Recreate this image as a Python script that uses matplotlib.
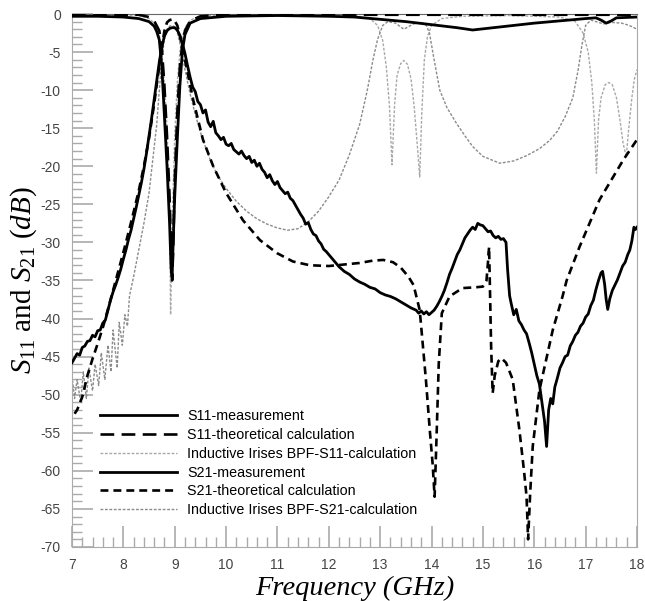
import matplotlib.pyplot as plt
import numpy as np

plt.rcParams['axes.unicode_minus'] = False
plt.rcParams['mathtext.fontset'] = 'custom'
plt.rcParams['mathtext.rm'] = 'Liberation Serif'
plt.rcParams['mathtext.it'] = 'Liberation Serif:italic'

# S11 - measurement
s11_meas_f = [7.0, 7.5, 8.0, 8.3, 8.5, 8.6, 8.65, 8.7, 8.75, 8.8, 8.85, 8.9, 8.93, 8.95, 8.97, 9.0,
              9.05, 9.1, 9.15, 9.2, 9.3, 9.5, 10.0, 11.0, 12.0, 12.5, 13.0, 13.5, 14.0, 14.5, 14.8,
              15.2, 15.6, 16.0, 16.5, 17.0, 17.2, 17.3, 17.4, 17.5, 17.6, 18.0]
s11_meas_db = [-0.3, -0.3, -0.4, -0.6, -1.0, -1.6, -2.3, -3.4, -7.0, -13.5, -20.0, -27.5, -33.5, -34.5,
               -30.0, -24.0, -16.5, -9.5, -4.8, -2.7, -1.2, -0.6, -0.3, -0.2, -0.3, -0.4, -0.7, -1.0,
               -1.4, -1.8, -2.1, -1.8, -1.5, -1.2, -0.9, -0.6, -0.5, -0.8, -1.2, -0.9, -0.5, -0.4]

# S11 - theoretical calculation
s11_theo_f = [7.0, 8.3, 8.5, 8.6, 8.7, 8.75, 8.8, 8.85, 8.9, 8.93, 8.95, 8.97, 9.0, 9.05, 9.1, 9.15,
              9.2, 9.3, 9.5, 10.0, 18.0]
s11_theo_db = [-0.1, -0.1, -0.4, -0.9, -2.2, -4.5, -9.5, -16.0, -24.0, -31.0, -35.0, -31.0, -22.0,
               -13.0, -7.0, -3.8, -2.2, -0.9, -0.3, -0.1, -0.1]

# Inductive irises BPF - S11 calculation
s11_ind_f = [7.0, 8.3, 8.5, 8.6, 8.7, 8.75, 8.8, 8.85, 8.9, 8.92, 8.95, 9.0, 9.05, 9.1, 9.15, 9.2,
             9.3, 9.5, 10.0, 12.0, 12.5, 12.8, 12.95, 13.05, 13.12, 13.18, 13.23, 13.28, 13.33, 13.4,
             13.46, 13.53, 13.6, 13.66, 13.72, 13.77, 13.81, 13.86, 13.92, 14.0, 14.2, 14.6, 15.5,
             16.5, 16.8, 16.95, 17.05, 17.12, 17.17, 17.21, 17.25, 17.3, 17.38, 17.45, 17.52, 17.6,
             17.67, 17.73, 17.79, 17.84, 17.9, 17.95, 18.0]
s11_ind_db = [-0.05, -0.2, -0.6, -1.2, -2.8, -5.0, -9.0, -15.0, -26.0, -39.5, -28.0, -16.0, -9.0, -5.0,
              -3.0, -1.8, -0.8, -0.3, -0.1, -0.1, -0.2, -0.6, -1.5, -3.5, -7.0, -12.0, -19.8, -12.0,
              -8.0, -6.5, -6.1, -6.6, -8.5, -12.0, -17.0, -21.4, -13.0, -6.0, -3.0, -1.5, -0.6, -0.3,
              -0.2, -0.4, -1.0, -2.5, -5.0, -9.0, -14.0, -20.9, -14.0, -11.0, -9.3, -9.0, -9.3, -11.0,
              -14.0, -17.0, -18.7, -15.0, -11.0, -8.5, -7.3]

# S21 - measurement
s21_meas_f = [7.00, 7.05, 7.10, 7.15, 7.20, 7.25, 7.30, 7.35, 7.40, 7.45, 7.50, 7.55, 7.60, 7.65, 7.70,
              7.75, 7.80, 7.85, 7.90, 7.95, 8.00, 8.05, 8.10, 8.15, 8.20, 8.25, 8.30, 8.35, 8.40, 8.45,
              8.50, 8.55, 8.60, 8.65, 8.70, 8.75, 8.80, 8.85, 8.90, 8.95, 9.00, 9.05, 9.10, 9.15, 9.20,
              9.25, 9.30, 9.35, 9.40, 9.45, 9.50, 9.55, 9.60, 9.65, 9.70, 9.75, 9.80, 9.85, 9.90, 9.95,
              10.00, 10.05, 10.10, 10.15, 10.20, 10.25, 10.30, 10.35, 10.40, 10.45, 10.50, 10.55, 10.60,
              10.65, 10.70, 10.75, 10.80, 10.85, 10.90, 10.95, 11.00, 11.05, 11.10, 11.15, 11.20, 11.25,
              11.30, 11.35, 11.40, 11.45, 11.50, 11.55, 11.60, 11.65, 11.70, 11.75, 11.80, 11.85, 11.90,
              11.95, 12.00, 12.10, 12.20, 12.30, 12.40, 12.50, 12.60, 12.70, 12.80, 12.90, 13.00, 13.10,
              13.20, 13.30, 13.40, 13.50, 13.60, 13.70, 13.75, 13.80, 13.85, 13.90, 13.95, 14.00, 14.05,
              14.10, 14.15, 14.20, 14.25, 14.30, 14.35, 14.40, 14.45, 14.50, 14.55, 14.60, 14.65, 14.70,
              14.75, 14.80, 14.85, 14.90, 14.95, 15.00, 15.05, 15.10, 15.15, 15.20, 15.25, 15.30, 15.35,
              15.40, 15.45, 15.48, 15.52, 15.55, 15.60, 15.65, 15.70, 15.75, 15.80, 15.85, 15.90, 15.95,
              16.00, 16.05, 16.10, 16.15, 16.20, 16.24, 16.28, 16.32, 16.36, 16.40, 16.45, 16.50, 16.55,
              16.60, 16.65, 16.70, 16.75, 16.80, 16.85, 16.90, 16.95, 17.00, 17.05, 17.10, 17.15, 17.20,
              17.25, 17.30, 17.33, 17.37, 17.40, 17.43, 17.47, 17.52, 17.57, 17.62, 17.67, 17.72, 17.77,
              17.82, 17.86, 17.90, 17.94, 17.97, 18.00]
s21_meas_db = [-45.8, -45.2, -44.6, -44.8, -43.8, -43.6, -43.0, -42.9, -42.2, -42.4, -41.6, -41.5, -40.6,
               -40.2, -38.9, -37.6, -36.5, -35.6, -34.6, -33.5, -32.2, -31.0, -29.6, -28.4, -26.9, -25.4,
               -23.8, -22.2, -20.4, -18.3, -16.0, -13.7, -11.2, -8.8, -6.3, -4.3, -2.9, -2.2, -1.9, -1.8,
               -1.8, -2.1, -2.8, -3.9, -5.2, -6.8, -8.3, -9.6, -10.2, -11.5, -11.9, -13.0, -12.6, -14.2,
               -14.8, -14.1, -15.6, -16.0, -16.5, -16.2, -17.1, -17.3, -17.0, -17.8, -18.1, -18.4, -18.0,
               -18.6, -19.0, -18.7, -19.5, -19.2, -20.0, -19.6, -20.4, -20.8, -21.5, -21.1, -21.9, -22.4,
               -22.0, -22.8, -23.2, -23.6, -23.4, -24.2, -24.5, -25.1, -25.7, -26.3, -26.8, -27.6, -27.4,
               -28.3, -28.9, -29.1, -29.8, -30.2, -30.9, -31.2, -31.6, -32.4, -33.2, -33.8, -34.2, -34.8,
               -35.2, -35.5, -35.9, -36.1, -36.6, -36.9, -37.1, -37.4, -37.8, -38.2, -38.6, -38.9, -39.3,
               -39.0, -39.4, -39.1, -39.5, -39.2, -38.9, -38.4, -37.8, -37.1, -36.3, -35.3, -34.2, -33.4,
               -32.5, -31.6, -31.0, -30.2, -29.4, -28.9, -28.4, -28.0, -28.3, -27.5, -27.7, -27.8, -28.2,
               -28.6, -28.5, -29.1, -29.4, -29.2, -29.6, -29.5, -30.0, -33.5, -37.0, -38.0, -39.5, -38.8,
               -40.3, -40.8, -41.5, -42.0, -43.2, -44.5, -46.0, -47.5, -48.6, -51.0, -53.5, -56.8, -52.0,
               -50.5, -51.2, -49.0, -47.8, -46.5, -45.8, -45.0, -44.8, -43.6, -43.0, -42.2, -41.8, -41.0,
               -40.6, -39.8, -39.4, -38.3, -37.6, -36.2, -35.0, -34.0, -33.8, -35.5, -37.5, -38.8, -37.4,
               -36.3, -35.6, -34.9, -34.0, -33.1, -32.6, -31.6, -31.0, -29.8, -28.0, -28.3, -28.0]

# S21 - theoretical calculation
s21_theo_f = [7.05, 7.1, 7.2, 7.3, 7.4, 7.5, 7.6, 7.7, 7.8, 7.9, 8.0, 8.1, 8.2, 8.3, 8.4, 8.5, 8.6, 8.7,
              8.75, 8.8, 8.85, 8.9, 8.95, 9.0, 9.05, 9.1, 9.15, 9.23, 9.36, 9.55, 9.75, 10.0, 10.33,
              10.66, 10.99, 11.3, 11.63, 12.0, 12.3, 12.6, 12.85, 13.06, 13.25, 13.4, 13.55, 13.65,
              13.77, 13.89, 13.97, 14.02, 14.06, 14.1, 14.14, 14.2, 14.35, 14.6, 14.85, 15.0, 15.07,
              15.1, 15.12, 15.14, 15.16, 15.19, 15.23, 15.3, 15.36, 15.45, 15.58, 15.71, 15.8, 15.85,
              15.88, 15.92, 15.97, 16.1, 16.36, 16.55, 16.63, 16.88, 17.27, 17.73, 18.0]
s21_theo_db = [-52.5, -52.0, -50.3, -47.5, -45.3, -43.3, -41.2, -38.8, -36.3, -33.8, -31.3, -28.7, -26.0,
               -23.2, -20.0, -16.3, -11.8, -6.8, -4.3, -2.2, -1.1, -0.8, -0.7, -0.9, -1.5, -2.8, -4.6,
               -7.0, -11.3, -16.5, -20.0, -23.5, -27.1, -29.7, -31.4, -32.5, -33.0, -33.1, -32.9, -32.7,
               -32.4, -32.3, -32.6, -33.3, -34.5, -35.6, -38.9, -48.0, -55.0, -59.0, -63.4, -55.0, -46.0,
               -39.3, -37.1, -36.0, -35.9, -35.8, -35.0, -32.5, -30.6, -37.0, -43.7, -49.8, -47.5, -45.6,
               -45.2, -45.8, -48.0, -54.6, -60.0, -63.4, -69.0, -63.0, -56.8, -49.4, -41.5, -37.1, -35.0,
               -30.6, -24.4, -19.2, -16.5]

# Inductive irises BPF - S21 calculation
s21_ind_f = [7.0, 7.05, 7.1, 7.17, 7.22, 7.28, 7.33, 7.4, 7.45, 7.52, 7.57, 7.64, 7.7, 7.76, 7.8, 7.88,
             7.92, 7.98, 8.03, 8.08, 8.12, 8.2, 8.3, 8.4, 8.5, 8.55, 8.6, 8.65, 8.7, 8.75, 8.8, 8.85,
             8.9, 8.95, 9.0, 9.05, 9.1, 9.15, 9.2, 9.3, 9.4, 9.5, 9.6, 9.7, 9.8, 9.9, 10.0, 10.2,
             10.4, 10.6, 10.8, 11.0, 11.2, 11.4, 11.6, 11.8, 12.0, 12.2, 12.4, 12.6, 12.75, 12.86,
             12.95, 13.05, 13.15, 13.3, 13.46, 13.65, 13.8, 13.9, 13.96, 14.05, 14.16, 14.3, 14.48,
             14.65, 14.8, 15.0, 15.33, 15.6, 15.85, 16.1, 16.3, 16.45, 16.6, 16.75, 16.85, 16.93, 17.0,
             17.1, 17.2, 17.35, 17.5, 17.7, 17.85, 18.0]
s21_ind_db = [-47.5, -50.5, -48.0, -51.0, -47.0, -50.5, -46.5, -49.5, -46.0, -48.8, -44.5, -48.0, -43.5,
              -47.0, -41.5, -46.5, -40.5, -43.5, -39.5, -41.0, -37.0, -34.5, -31.0, -27.5, -23.5, -20.5,
              -17.5, -14.5, -10.0, -6.0, -3.2, -2.0, -1.6, -1.5, -1.7, -2.4, -3.8, -5.5, -7.3, -10.5,
              -13.2, -15.5, -17.5, -19.3, -20.7, -21.9, -22.9, -24.6, -25.9, -26.9, -27.6, -28.1, -28.4,
              -28.2, -27.3, -25.9, -24.0, -21.8, -18.5, -14.5, -10.0, -6.0, -3.3, -1.5, -1.0, -1.2,
              -2.0, -1.3, -1.1, -1.5, -2.5, -6.0, -10.0, -12.3, -14.3, -16.0, -17.4, -18.7, -19.6,
              -19.3, -18.6, -17.7, -16.6, -15.4, -13.5, -11.0, -7.5, -4.0, -1.5, -0.8, -1.0, -1.3, -1.1,
              -1.2, -1.5, -2.0]

fig = plt.figure(figsize=(6.45, 6.01), dpi=100)
ax = fig.add_axes([0.1116, 0.0899, 0.8760, 0.8868])

ax.plot(s11_ind_f, s11_ind_db, color='#a8a8a8', lw=1.0, ls=(0, (2, 1.2)),
        label='Inductive Irises BPF-S11-calculation', zorder=2)
ax.plot(s21_ind_f, s21_ind_db, color='#8a8a8a', lw=1.0, ls=(0, (2, 1.2)),
        label='Inductive Irises BPF-S21-calculation', zorder=2)
ax.plot(s11_theo_f, s11_theo_db, color='black', lw=1.9, ls=(0, (5.2, 2.8)),
        label='S11-theoretical calculation', zorder=3)
ax.plot(s21_theo_f, s21_theo_db, color='black', lw=1.9, ls=(0, (3.0, 1.9)),
        label='S21-theoretical calculation', zorder=3)
ax.plot(s11_meas_f, s11_meas_db, color='black', lw=2.0, label='S11-measurement', zorder=4)
ax.plot(s21_meas_f, s21_meas_db, color='black', lw=2.0, label='S21-measurement', zorder=4)

ax.set_xlim(7, 18)
ax.set_ylim(-70, 0)
ax.set_xticks(np.arange(7, 19, 1))
ax.set_xticks(np.arange(7, 18.01, 0.2), minor=True)
ax.set_yticks(np.arange(-70, 1, 5))
ax.set_yticks(np.arange(-70, 1, 1), minor=True)
ax.tick_params(which='both', direction='in', color='#aaaaaa', labelcolor='#444444',
               labelsize=10, top=False, right=False)
ax.tick_params(which='major', length=15, width=1.2, pad=8)
ax.tick_params(which='minor', length=7, width=1.0)
for lab in ax.get_xticklabels() + ax.get_yticklabels():
    lab.set_fontfamily('Liberation Sans')
for side in ['left', 'bottom', 'right']:
    ax.spines[side].set_color('#aaaaaa')
ax.spines['top'].set_color('#666666')

ax.set_xlabel('Frequency (GHz)', fontfamily='Liberation Serif', fontstyle='italic',
              fontsize=20.5, labelpad=3)
ax.set_ylabel(r'$S_{\mathit{11}}$ and $S_{\mathit{21}}$ $(dB)$', fontfamily='Liberation Serif',
              fontsize=21, labelpad=1)

handles, labels = ax.get_legend_handles_labels()
order = ['S11-measurement', 'S11-theoretical calculation', 'Inductive Irises BPF-S11-calculation',
         'S21-measurement', 'S21-theoretical calculation', 'Inductive Irises BPF-S21-calculation']
hmap = dict(zip(labels, handles))
ax.legend([hmap[k] for k in order], order, loc='upper left', bbox_to_anchor=(0.0496, 0.258),
          frameon=False, borderpad=0, borderaxespad=0, handlelength=5.4, handletextpad=0.7,
          labelspacing=0.33, prop={'family': 'Liberation Sans', 'size': 10.3})

fig.savefig('out.png', dpi=100)
